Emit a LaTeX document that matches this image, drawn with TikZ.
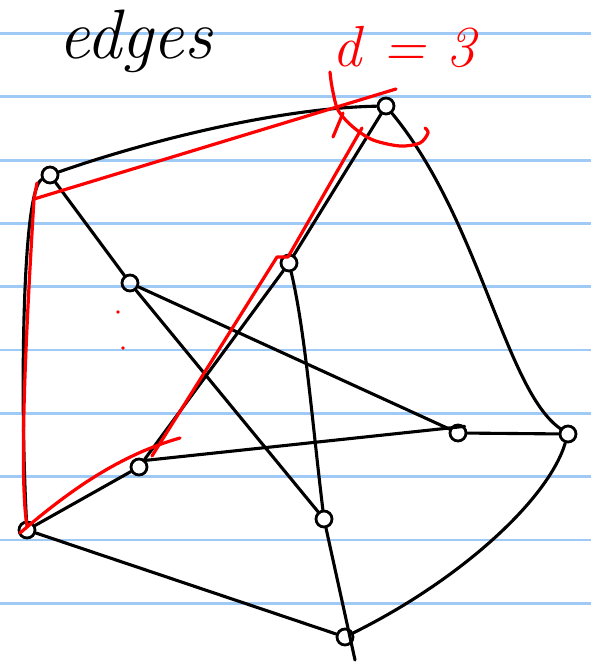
\documentclass[tikz,border=0pt]{standalone}
\usepackage{tikz}
\usetikzlibrary{positioning}
\definecolor{ruleblue}{RGB}{160,202,246}
\definecolor{penred}{RGB}{255,0,0}
\tikzset{
  vtx/.style={circle, draw=black, line width=2.8pt, minimum size=16pt, inner sep=0pt},
  edgeline/.style={black, line width=3.1pt, line cap=round, line join=round},
  redline/.style={penred, line width=3.2pt, line cap=round, line join=round},
  ruling/.style={ruleblue, line width=2.8pt},
}

\begin{document}
\begin{tikzpicture}[x=1pt, y=-1pt]
\fill[white] (0,0) rectangle (591,664);
\useasboundingbox (0,0) rectangle (591,664);
\foreach \k in {0,...,9}
  \draw[ruling] (0,33.5+63.3*\k) -- (591,33.5+63.3*\k);

\node[anchor=base, inner sep=0pt, font=\fontsize{70}{74}\selectfont\itshape] (title) at (135,58) {edges};
\node[anchor=base, inner sep=0pt, text=penred, font=\fontsize{58}{62}\selectfont\itshape] (dlabel) at (404,66) {d = 3};

\node[vtx] (nA) at (386,106) {};
\node[vtx] (nB) at (50,175) {};
\node[vtx] (nC) at (130,283) {};
\node[vtx] (nD) at (289,263) {};
\node[vtx] (nE) at (458,433) {};
\node[vtx] (nF) at (568,434) {};
\node[vtx] (nG) at (139,467) {};
\node[vtx] (nH) at (27,530) {};
\node[vtx] (nI) at (324,519) {};
\node[vtx] (nJ) at (345,637) {};
\coordinate (tailJ) at (355,660);

\draw[edgeline] (nB) .. controls (150,140) and (280,108) .. (nA);
\draw[edgeline] (nA) -- (nD);
\draw[edgeline] (nA) .. controls (480,220) and (505,390) .. (nF);
\draw[edgeline] (nB) .. controls (22,190) and (20,400) .. (nH);
\draw[edgeline] (nB) -- (nC);
\draw[edgeline] (nC) -- (nI);
\draw[edgeline] (nC) -- (nE);
\draw[edgeline] (nD) -- (nG);
\draw[edgeline] (nD) .. controls (305,330) and (312,420) .. (nI);
\draw[edgeline] (nG.north east) -- (nE.north east);
\draw[edgeline] (nE) -- (nF);
\draw[edgeline] (nG) -- (nH);
\draw[edgeline] (nH) -- (nJ);
\draw[edgeline] (nI) -- (tailJ);
\draw[edgeline] (nF) .. controls (548,500) and (460,580) .. (nJ);

\coordinate (rA1) at (396,89);
\coordinate (rB1) at (34,199);
\coordinate (rB2) at (37,183);
\coordinate (rH1) at (27,526);
\coordinate (rH2) at (20,533);
\coordinate (rG1) at (180,438);
\coordinate (rG2) at (152,456);
\coordinate (rD1) at (277,257);
\coordinate (rD2) at (288,257);
\coordinate (rA2) at (362,128);

\draw[redline] (rA1) -- (rB1);
\draw[redline] (rB2) -- (rB1) .. controls (28,300) and (18,470) .. (rH1);
\draw[redline] (rH2) .. controls (70,490) and (120,455) .. (rG1);
\draw[redline] (rG2) -- (rD1) -- (rD2) -- (rA2);
\draw[redline] plot[smooth] coordinates {(330,72) (332,87) (338,110) (353,127) (373,140) (400,146) (420,143) (428,133) (425,128)};
\draw[redline] (333,137) -- (343,113);
\fill[penred] (118,312) circle (1.8pt);
\fill[penred] (123,348) circle (1.8pt);
\end{tikzpicture}
\end{document}
